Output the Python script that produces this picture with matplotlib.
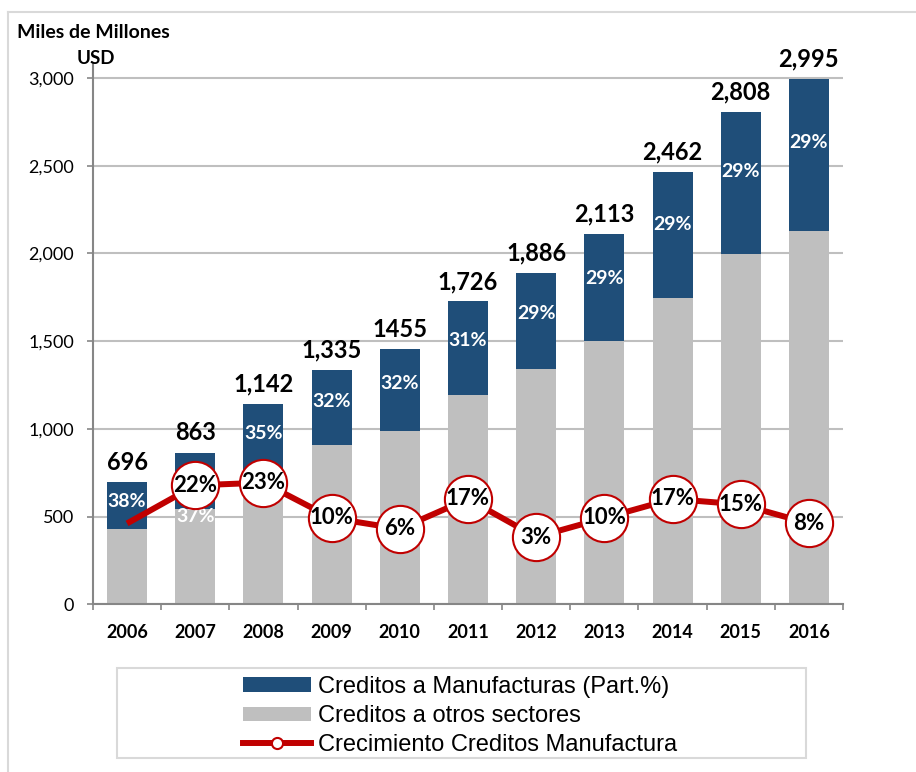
import matplotlib.pyplot as plt
import numpy as np
from matplotlib.lines import Line2D
from matplotlib.patches import Patch, Rectangle

plt.rcParams["font.family"] = ["Lato", "DejaVu Sans"]

years = ["2006", "2007", "2008", "2009", "2010", "2011", "2012", "2013", "2014", "2015", "2016"]
totals = [696, 863, 1142, 1335, 1455, 1726, 1886, 2113, 2462, 2808, 2995]
total_labels = ["696", "863", "1,142", "1,335", "1455", "1,726", "1,886", "2,113", "2,462", "2,808", "2,995"]
manuf_share = [38, 37, 35, 32, 32, 31, 29, 29, 29, 29, 29]  # % of total
growth = [8, 22, 23, 10, 6, 17, 3, 10, 17, 15, 8]  # % growth of manufacturing credit

BLUE = "#1F4E79"
GREY = "#BFBFBF"
RED = "#C00000"
AXIS = "#868686"

totals_a = np.array(totals, dtype=float)
manuf = totals_a * np.array(manuf_share) / 100.0
others = totals_a - manuf
x = np.arange(len(years))

fig = plt.figure(figsize=(9.16, 7.72), dpi=100)
ax = fig.add_axes([0.1015, 0.2172, 0.8188, 0.7012])

w = 0.587
ax.bar(x, others, w, color=GREY, zorder=2)
ax.bar(x, manuf, w, bottom=others, color=BLUE, zorder=2)

ax.set_xlim(-0.5, len(years) - 0.5)
ax.set_ylim(0, 3085)
ax.set_yticks(np.arange(0, 3001, 500))
ax.set_yticklabels([f"{v:,}" for v in range(0, 3001, 500)])
ax.yaxis.grid(True, color=GREY, lw=1.5, zorder=0)
ax.set_axisbelow(True)

ax.set_xticks(x)
ax.set_xticklabels(years, fontweight="bold")
ax.set_xticks(np.arange(-0.5, len(years)), minor=True)
ax.tick_params(axis="x", which="major", length=0, pad=14, labelsize=13)
ax.tick_params(axis="x", which="minor", length=4.5, width=1.2, color=AXIS)
ax.tick_params(axis="y", length=4.5, width=1.2, color=AXIS, pad=9, labelsize=13)

for side in ("top", "right"):
    ax.spines[side].set_visible(False)
for side in ("left", "bottom"):
    ax.spines[side].set_color(AXIS)
    ax.spines[side].set_linewidth(1.5)

# totals above each bar, share of manufacturing inside the blue part
for i in range(len(years)):
    ax.annotate(total_labels[i], (x[i], totals[i]), xytext=(0, 9), textcoords="offset points",
                ha="center", va="baseline", fontsize=17, fontweight="bold", color="black")
    if i == 1:
        ly, va = others[i] + 8, "top"
    else:
        ly, va = others[i] + 0.58 * manuf[i], "center"
    ax.text(x[i], ly, f"{manuf_share[i]}%", ha="center", va=va,
            fontsize=14, fontweight="bold", color="white", zorder=3)

# growth line on a hidden secondary scale
ax2 = ax.twinx()
zero, step = 337.0, 15.5
top = ax.get_ylim()[1]
ax2.set_ylim(-zero / step, (top - zero) / step)
ax2.axis("off")
ax2.plot(x, growth, color=RED, lw=4.3, solid_capstyle="butt", zorder=3)
ax2.plot(x[1:], growth[1:], ls="none", marker="o", ms=34, mfc="white", mec=RED, mew=1.5, zorder=4)
for i in range(1, len(years)):
    ax2.text(x[i], growth[i], f"{growth[i]}%", ha="center", va="center",
             fontsize=16, fontweight="bold", color="black", zorder=5)

fig.text(17 / 916, 1 - 38 / 772, "Miles de Millones", fontsize=14, fontweight="bold", va="baseline")
fig.text(77 / 916, 1 - 64 / 772, "USD", fontsize=13.5, fontweight="bold", va="baseline")

# legend with its own box
handles = [
    Patch(facecolor=BLUE, edgecolor="none"),
    Patch(facecolor=GREY, edgecolor="none"),
    Line2D([0], [0], color=RED, lw=4.3, marker="o", ms=8, mfc="white", mec=RED, mew=1.5),
]
labels = ["Creditos a Manufacturas (Part.%)", "Creditos a otros sectores", "Crecimiento Creditos Manufactura"]
fig.legend(handles, labels, loc="center left", bbox_to_anchor=(243 / 916, 1 - 716 / 772),
           frameon=False, borderpad=0, borderaxespad=0, handlelength=2.88, handleheight=0.55,
           handletextpad=0.3, labelspacing=0.3,
           prop={"family": "Liberation Sans", "size": 17})
fig.patches.append(Rectangle((117 / 916, 1 - 758 / 772), (806 - 117) / 916, 90 / 772,
                             transform=fig.transFigure, fill=False, edgecolor="#D9D9D9", lw=1.5))

# outer frame of the chart
fig.lines.append(Line2D([8 / 916, 1], [1 - 12 / 772, 1 - 12 / 772], transform=fig.transFigure,
                        color="#D9D9D9", lw=1.5))
fig.lines.append(Line2D([8 / 916, 8 / 916], [0, 1 - 12 / 772], transform=fig.transFigure,
                        color="#D9D9D9", lw=1.5))

fig.savefig("out.png", dpi=100)
